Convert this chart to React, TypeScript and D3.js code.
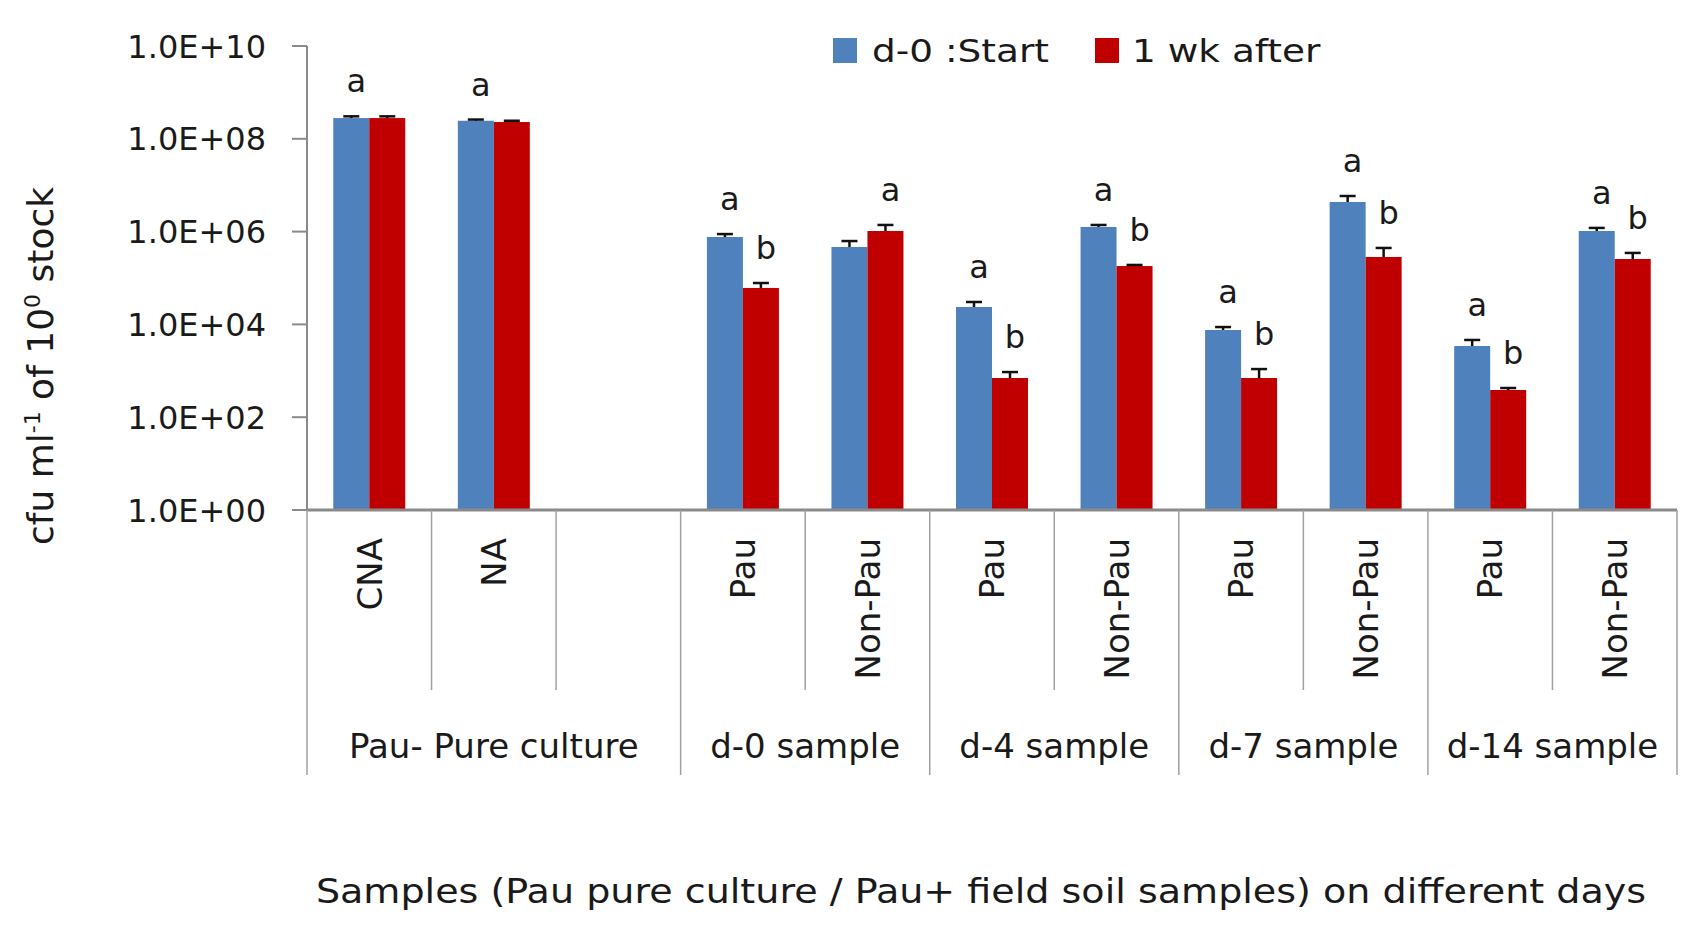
import * as d3 from "d3"

const categories = ["CNA", "NA", "", "Pau", "Non-Pau", "Pau", "Non-Pau", "Pau", "Non-Pau", "Pau", "Non-Pau"]
const groups = ["Pau- Pure culture", "d-0 sample", "d-4 sample", "d-7 sample", "d-14 sample"]
const groupSizes = [3, 2, 2, 2, 2]
const seriesNames = ["d-0 :Start", "1 wk after"]

const startValues = [2.8e8, 2.45e8, null, 7.65e5, 4.66e5, 2.37e4, 1.26e6, 7.57e3, 4.35e6, 3.42e3, 1.03e6]
const afterValues = [2.8e8, 2.3e8, null, 6.1e4, 1.03e6, 7.0e2, 1.81e5, 7.0e2, 2.84e5, 3.86e2, 2.57e5]
const startErrors = [2.5e7, 1.5e7, null, 1.2e5, 1.6e5, 6.7e3, 1.3e5, 1.2e3, 1.5e6, 1.2e3, 1.7e5]
const afterErrors = [2.5e7, 1.5e7, null, 1.7e4, 3.6e5, 240, 1e4, 390, 1.6e5, 40, 9e4]
const startLetters = ["a", "a", "", "a", "", "a", "a", "a", "a", "a", "a"]
const afterLetters = ["", "", "", "b", "a", "b", "b", "b", "b", "b", "b"]

const yTicks = [1, 1e2, 1e4, 1e6, 1e8, 1e10]

const W = 1700
const H = 931
const left = 307
const right = 1677
const top = 46
const bottom = 510
const font = "DejaVu Sans"
const ink = "#1a1a1a"
const colors = ["#4F81BD", "#C00000"]

export default function App() {
  const ids = categories.map((_, i) => String(i))
  const x = d3.scaleBand().domain(ids).range([left, right])
  const sub = d3.scaleBand().domain(["0", "1"]).range([0, x.bandwidth()]).paddingOuter(0.73)
  const y = d3.scaleLog().domain([1, 1e10]).range([bottom, top])
  const fmt = (v: number) => `1.0E+${String(Math.round(Math.log10(v))).padStart(2, "0")}`

  const series = [
    { values: startValues, errors: startErrors, letters: startLetters },
    { values: afterValues, errors: afterErrors, letters: afterLetters },
  ]

  // group boundaries as category indexes
  const groupEdges = [0]
  groupSizes.forEach((s) => groupEdges.push(groupEdges[groupEdges.length - 1] + s))

  const edgeX = (i: number) => (i < ids.length ? x(ids[i])! : right)

  return (
    <svg width={W} height={H} style={{ position: "absolute", left: 0, top: 0, background: "#fff" }} fontFamily={font}>
      {/* y axis */}
      <line x1={left} x2={left} y1={top} y2={bottom} stroke="#8a8a8a" strokeWidth={2} />
      {yTicks.map((t) => (
        <g key={t}>
          <line x1={left - 15} x2={left} y1={y(t)} y2={y(t)} stroke="#8a8a8a" strokeWidth={2} />
          <text x={266} y={y(t)} dy="0.36em" textAnchor="end" fontSize={32} fill={ink}>
            {fmt(t)}
          </text>
        </g>
      ))}

      {/* bars */}
      {series.map((s, si) =>
        s.values.map((v, i) => {
          if (v == null) return null
          const bx = x(ids[i])! + sub(String(si))!
          return (
            <rect key={`${si}-${i}`} x={bx} y={y(v)} width={sub.bandwidth()} height={bottom - y(v)} fill={colors[si]} />
          )
        })
      )}

      {/* error bars */}
      {series.map((s, si) =>
        s.values.map((v, i) => {
          if (v == null) return null
          const cx = x(ids[i])! + sub(String(si))! + sub.bandwidth() / 2
          const yt = y(v + (s.errors[i] as number))
          return (
            <g key={`e${si}-${i}`} stroke="#111" strokeWidth={2.5}>
              <line x1={cx} x2={cx} y1={y(v)} y2={yt} />
              <line x1={cx - 8} x2={cx + 8} y1={yt} y2={yt} />
            </g>
          )
        })
      )}

      {/* significance letters */}
      {series.map((s, si) =>
        s.values.map((v, i) => {
          if (v == null || !s.letters[i]) return null
          const cx = x(ids[i])! + sub(String(si))! + sub.bandwidth() / 2 + 5
          const yt = y(v + (s.errors[i] as number))
          return (
            <text key={`l${si}-${i}`} x={cx} y={yt - 24} textAnchor="middle" fontSize={32} fill={ink}>
              {s.letters[i]}
            </text>
          )
        })
      )}

      {/* x axis */}
      <line x1={left} x2={right} y1={bottom} y2={bottom} stroke="#8a8a8a" strokeWidth={3} />
      {d3.range(ids.length + 1).map((i) => (
        <line
          key={`t${i}`}
          x1={edgeX(i)}
          x2={edgeX(i)}
          y1={bottom}
          y2={groupEdges.includes(i) ? 775 : 690}
          stroke="#a0a0a0"
          strokeWidth={1.5}
        />
      ))}
      {categories.map((c, i) => {
        const cx = x(ids[i])! + x.bandwidth() / 2
        return (
          <text
            key={`c${i}`}
            transform={`translate(${cx},538) rotate(-90)`}
            dy="0.36em"
            textAnchor="end"
            fontSize={34}
            fill={ink}
          >
            {c}
          </text>
        )
      })}
      {groups.map((g, gi) => {
        const cx = (edgeX(groupEdges[gi]) + edgeX(groupEdges[gi + 1])) / 2
        return (
          <text key={g} x={cx} y={758} textAnchor="middle" fontSize={34} fill={ink}>
            {g}
          </text>
        )
      })}

      {/* axis titles */}
      <g transform="translate(981,903) scale(1.12,1)">
        <text textAnchor="middle" fontSize={34} fill={ink}>
          Samples (Pau pure culture / Pau+ field soil samples) on different days
        </text>
      </g>
      <text transform="translate(53,366) rotate(-90)" textAnchor="middle" fontSize={36} fill={ink}>
        cfu ml
        <tspan dy={-13} fontSize={22}>-1</tspan>
        <tspan dy={13}> of 10</tspan>
        <tspan dy={-13} fontSize={22}>0</tspan>
        <tspan dy={13}> stock</tspan>
      </text>

      {/* legend */}
      <rect x={833} y={38} width={24} height={25} fill={colors[0]} />
      <g transform="translate(872,62) scale(1.17,1)">
        <text fontSize={32} fill={ink}>{seriesNames[0]}</text>
      </g>
      <rect x={1095} y={38} width={24} height={25} fill={colors[1]} />
      <g transform="translate(1132,62) scale(1.17,1)">
        <text fontSize={32} fill={ink}>{seriesNames[1]}</text>
      </g>
    </svg>
  )
}
